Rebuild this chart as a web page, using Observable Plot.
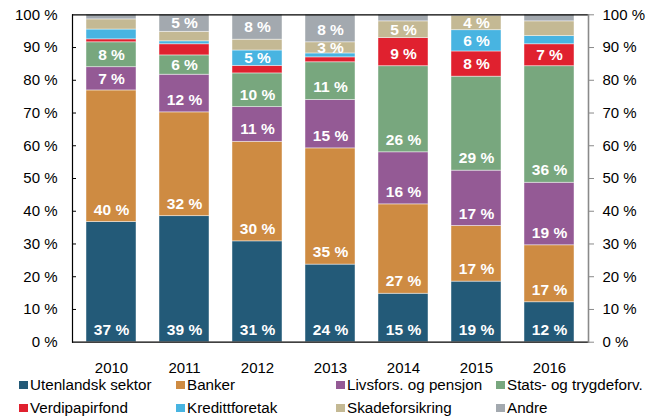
<!DOCTYPE html>
<html>
<head>
<meta charset="utf-8">
<script src="https://cdn.jsdelivr.net/npm/d3@7"></script>
<script src="https://cdn.jsdelivr.net/npm/@observablehq/plot@0.6"></script>
<style>
  html, body { margin: 0; padding: 0; background: #fff; }
  body { width: 662px; height: 416px; position: relative; overflow: hidden; font-family: "Liberation Sans", Arial, sans-serif; }
  #chart { position: absolute; left: 0; top: 0; }
  .leg { position: absolute; font-size: 15.2px; color: #000; white-space: nowrap; line-height: 13px; height: 13px; }
  .leg .sw { position: absolute; width: 8.5px; height: 8.5px; left: 0; top: 2.5px; }
  .leg .lb { position: absolute; left: 11px; top: 0; }
</style>
</head>
<body>
<div id="chart"></div>
<div id="legend"></div>
<script>
const years = ["2010", "2011", "2012", "2013", "2014", "2015", "2016"];
const seriesNames = ["Utenlandsk sektor", "Banker", "Livsfors. og pensjon", "Stats- og trygdeforv.", "Verdipapirfond", "Kredittforetak", "Skadeforsikring", "Andre"];
const seriesColors = ["#235a78", "#ce8b42", "#945a95", "#78a77e", "#e0212f", "#48b4e1", "#c4b994", "#a3a9af"];

const utenlandsk = [36.7, 38.5, 30.8, 23.7, 14.8, 18.5, 12.2];
const banker     = [40.2, 31.7, 30.4, 35.5, 27.3, 17.0, 17.4];
const livsfors   = [7.1, 11.5, 10.6, 14.8, 15.9, 16.9, 19.1];
const stats      = [7.6, 5.9, 10.3, 11.5, 26.3, 28.7, 35.6];
const verdipapir = [0.9, 3.4, 2.3, 1.5, 8.6, 7.7, 6.7];
const kreditt    = [3.0, 0.9, 4.7, 1.2, 0.0, 6.5, 2.5];
const skade      = [3.1, 2.9, 3.3, 3.4, 5.1, 4.4, 4.5];
const andre      = [1.4, 5.2, 7.6, 8.4, 2.0, 0.3, 2.0];

const lblUtenlandsk = [37, 39, 31, 24, 15, 19, 12];
const lblBanker     = [40, 32, 30, 35, 27, 17, 17];
const lblLivsfors   = [7, 12, 11, 15, 16, 17, 19];
const lblStats      = [8, 6, 10, 11, 26, 29, 36];
const lblVerdipapir = [null, null, null, null, 9, 8, 7];
const lblKreditt    = [null, null, 5, null, null, 6, null];
const lblSkade      = [null, null, null, 3, 5, 4, null];
const lblAndre      = [null, 5, 8, 8, null, null, null];

const yTicks = [0, 10, 20, 30, 40, 50, 60, 70, 80, 90, 100];

const values = [utenlandsk, banker, livsfors, stats, verdipapir, kreditt, skade, andre];
const labels = [lblUtenlandsk, lblBanker, lblLivsfors, lblStats, lblVerdipapir, lblKreditt, lblSkade, lblAndre];

const data = [];
years.forEach((yr, i) => {
  let base = 0;
  seriesNames.forEach((s, j) => {
    const v = values[j][i];
    data.push({year: yr, series: s, value: v, base: base, top: base + v, label: labels[j][i]});
    base += v;
  });
});

const W = 662, H = 416, mL = 72, mR = 74, mT = 14.3, mB = 74.3;
const font = "'Liberation Sans', Arial, sans-serif";

const chart = Plot.plot({
  width: W, height: H,
  marginLeft: mL, marginRight: mR, marginTop: mT, marginBottom: mB,
  style: {fontFamily: font, fontSize: "15px", color: "#000", background: "transparent", overflow: "visible"},
  x: {domain: years, paddingInner: 0.31, paddingOuter: 0.155, label: null},
  y: {domain: [0, 100], label: null},
  color: {domain: seriesNames, range: seriesColors},
  marks: [
    Plot.barY(data, {x: "year", y1: "base", y2: "top", fill: "series", stroke: "#ffffff", strokeOpacity: 0.55, strokeWidth: 0.8}),
    Plot.text(data.filter(d => d.label != null), {
      x: "year", y: d => d.base + Math.min(3.8, d.value / 2),
      text: d => d.label + " %", fill: "white", fontWeight: "bold", fontSize: 15.5, fontFamily: font
    }),
    Plot.tickY(yTicks.slice(1, -1), {y: d => d, stroke: "#000", strokeWidth: 1, insetRight: W - mL - mR - 4}),
    Plot.ruleY([0, 100], {y: d => d, stroke: "#000", strokeWidth: 1.2}),
    Plot.frame({anchor: "left", stroke: "#000", strokeWidth: 1.2}),
    Plot.frame({anchor: "right", stroke: "#8a8a8a", strokeWidth: 1.6}),
    Plot.axisY({anchor: "left", ticks: yTicks, tickFormat: d => d + " %", tickSize: 0, tickPadding: 15, fontSize: 15}),
    Plot.axisY({anchor: "right", ticks: yTicks, tickFormat: d => d + " %", tickSize: 5, tickPadding: 9, stroke: "#8a8a8a", fill: "#000", fontSize: 15}),
    Plot.axisX({anchor: "bottom", tickSize: 0, tickPadding: 20, fontSize: 15})
  ]
});
document.getElementById("chart").appendChild(chart);

const legX = [19, 176, 336, 496];
const legY = [378, 401];
const legend = document.getElementById("legend");
seriesNames.forEach((s, j) => {
  const div = document.createElement("div");
  div.className = "leg";
  div.style.left = legX[j % 4] + "px";
  div.style.top = legY[Math.floor(j / 4)] + "px";
  div.innerHTML = `<span class="sw" style="background:${seriesColors[j]}"></span><span class="lb">${s}</span>`;
  legend.appendChild(div);
});
</script>
</body>
</html>
